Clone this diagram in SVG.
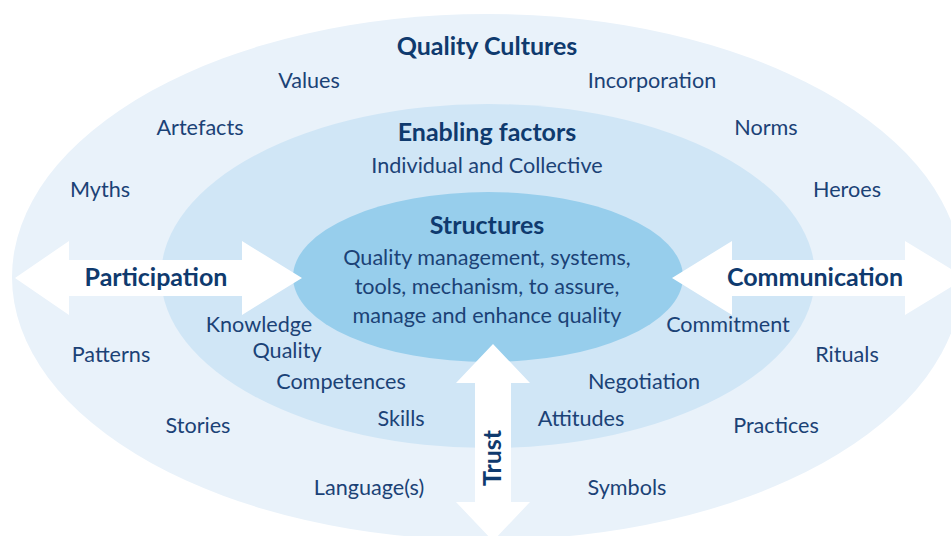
<svg xmlns="http://www.w3.org/2000/svg" width="951" height="536" viewBox="0 0 951 536">
  <style>
    text { font-family: Lato, "Open Sans", "Noto Sans", sans-serif; fill: #1B4276; text-anchor: middle; }
    .t { font-size: 21.6px; }
    .h { font-size: 25px; font-weight: bold; fill: #0F3A6E; }
    .ring-outer { fill: #E9F2FA; }
    .ring-mid { fill: #D0E6F6; }
    .ring-inner { fill: #97CEEC; }
    .arrow { fill: #FFFFFF; }
  </style>

  <rect width="951" height="536" fill="#FFFFFF"/>

  <!-- Quality Cultures (outer ring) -->
  <g id="quality-cultures">
    <ellipse class="ring-outer" cx="487" cy="277" rx="475" ry="263"/>
    <text class="h" x="487" y="55">Quality Cultures</text>
    <text class="t" x="309" y="88">Values</text>
    <text class="t" x="652" y="88">Incorporation</text>
    <text class="t" x="200" y="135">Artefacts</text>
    <text class="t" x="766" y="135">Norms</text>
    <text class="t" x="100" y="197">Myths</text>
    <text class="t" x="847" y="197">Heroes</text>
    <text class="t" x="111" y="362">Patterns</text>
    <text class="t" x="847" y="362">Rituals</text>
    <text class="t" x="198" y="433">Stories</text>
    <text class="t" x="776" y="433">Practices</text>
    <text class="t" x="369" y="495">Language(s)</text>
    <text class="t" x="627" y="495">Symbols</text>
  </g>

  <!-- Enabling factors (middle ring) -->
  <g id="enabling-factors">
    <ellipse class="ring-mid" cx="488" cy="276" rx="327" ry="172"/>
    <text class="h" x="487" y="141">Enabling factors</text>
    <text class="t" x="487" y="173">Individual and Collective</text>
    <text class="t" x="259" y="332">Knowledge</text>
    <text class="t" x="287" y="358">Quality</text>
    <text class="t" x="728" y="332">Commitment</text>
    <text class="t" x="341" y="389">Competences</text>
    <text class="t" x="644" y="389">Negotiation</text>
    <text class="t" x="401" y="426">Skills</text>
    <text class="t" x="581" y="426">Attitudes</text>
  </g>

  <!-- Structures (core) -->
  <g id="structures">
    <ellipse class="ring-inner" cx="488" cy="277" rx="195" ry="85"/>
    <text class="h" x="487" y="234">Structures</text>
    <text class="t" x="487" y="265">Quality management, systems,</text>
    <text class="t" x="487" y="294">tools, mechanism, to assure,</text>
    <text class="t" x="487" y="323">manage and enhance quality</text>
  </g>

  <!-- Double-headed block arrows -->
  <g id="connectors">
    <g id="participation">
      <polygon class="arrow" points="15,278 69,241 69,260 242,260 242,241 302,278 242,315 242,296 69,296 69,315"/>
      <text class="h" x="156" y="286">Participation</text>
    </g>
    <g id="communication">
      <polygon class="arrow" points="672,278 732,241 732,260 905,260 905,241 966,278 905,315 905,296 732,296 732,315"/>
      <text class="h" x="815" y="286">Communication</text>
    </g>
    <g id="trust">
      <polygon class="arrow" points="493,344 530,383 511,383 511,502 530,502 493,541 456,502 475,502 475,383 456,383"/>
      <text class="h" transform="translate(501 458) rotate(-90)" x="0" y="0">Trust</text>
    </g>
  </g>
</svg>
